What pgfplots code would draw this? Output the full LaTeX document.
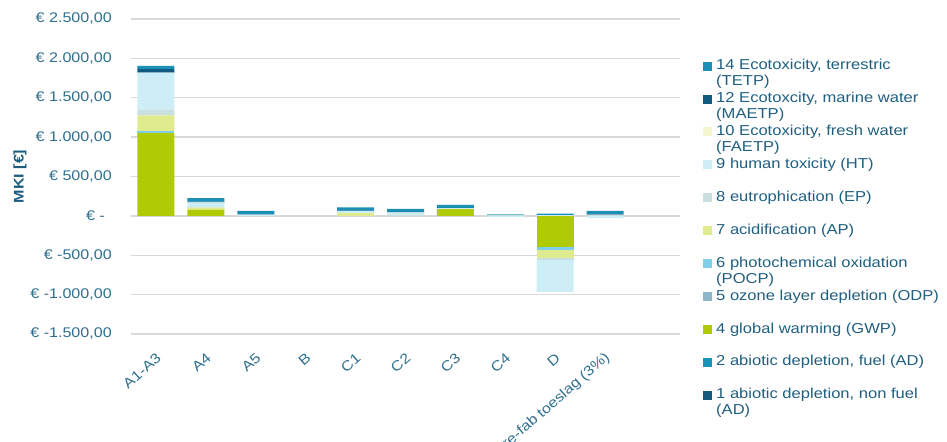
\documentclass[border=0pt]{standalone}
\usepackage{pgfplots}
\pgfplotsset{compat=1.18}
\usepackage{pgfplotstable}
\usepackage{fontspec}
\setmainfont{Liberation Sans}[FakeStretch=1.15]

\definecolor{c1}{HTML}{145A7E}
\definecolor{c2}{HTML}{1A93B8}
\definecolor{c4}{HTML}{B0CB05}
\definecolor{c5}{HTML}{8DB6C6}
\definecolor{c6}{HTML}{7ECFE7}
\definecolor{c7}{HTML}{DFEB8E}
\definecolor{c8}{HTML}{C9DFE0}
\definecolor{c9}{HTML}{CDEEF6}
\definecolor{c10}{HTML}{F2F7CF}
\definecolor{c12}{HTML}{115B80}
\definecolor{c14}{HTML}{1B8FB5}
\definecolor{gridgray}{HTML}{D9D9D9}
\definecolor{tickblue}{HTML}{2F6F8F}
\definecolor{legblue}{HTML}{1F5F7F}
\definecolor{labelblue}{HTML}{1C5C80}

% positive contributions per phase (EUR)
\pgfplotstableread{
x s1 s2 s4   s5 s6 s7  s8 s9  s10 s12 s14
0 0  0  1050 0  25 200 75 470 0   45  40
1 0  0  80   0  0  25  10 55  0   10  45
2 0  0  0    0  0  0   0  15  0   5   42
3 0  0  0    0  0  0   0  0   0   0   0
4 0  0  0    0  0  35  0  25  0   8   40
5 0  0  0    0  0  0   20 25  0   5   38
6 0  0  85   0  0  0   0  12  0   5   38
7 0  0  0    0  0  0   12 0   0   0   6
8 0  0  0    0  0  0   0  8   0   0   20
9 0  0  0    0  0  0   15 0   0   8   40
}\postab

% negative contributions per phase (EUR)
\pgfplotstableread{
x s1 s2 s4   s5 s6  s7   s8  s9   s10 s12 s14
0 0  0  0    0  0   0    0   0    0   0   0
1 0  0  0    0  0   0    0   0    0   0   0
2 0  0  0    0  0   0    0   0    0   0   0
3 0  0  0    0  0   0    0   0    0   0   0
4 0  0  0    0  0   0    0   0    0   0   0
5 0  0  0    0  0   0    0   0    0   0   0
6 0  0  0    0  0   0    0   0    0   0   0
7 0  0  0    0  0   0    0   -15  0   0   0
8 0  0  -400 0  -35 -105 -20 -405 0   0   0
9 0  0  0    0  0   0    0   -25  0   0   0
}\negtab

% legend entry, baseline on the first line
\newcommand{\legtext}[1]{\parbox[t]{240bp}{#1}}

\pgfplotsset{
  mkibase/.style={
    scale only axis, width=549bp, height=315bp,
    xmin=-0.5, xmax=10.5, ymin=-1500, ymax=2500,
    ybar stacked, bar width=37bp,
    at={(131bp,108bp)}, anchor=south west,
    font=\fontsize{14bp}{16bp}\selectfont,
  },
  s1/.style={fill=c1,draw=none},
  s2/.style={fill=c2,draw=none},
  s4/.style={fill=c4,draw=none},
  s5/.style={fill=c5,draw=none},
  s6/.style={fill=c6,draw=none},
  s7/.style={fill=c7,draw=none},
  s8/.style={fill=c8,draw=none},
  s9/.style={fill=c9,draw=none},
  s10/.style={fill=c10,draw=none},
  s12/.style={fill=c12,draw=none},
  s14/.style={fill=c14,draw=none},
}

\begin{document}
\begin{tikzpicture}
\useasboundingbox (0,0) rectangle (947bp,442bp);
\begin{axis}[mkibase,
  axis line style={draw=none}, major tick length=0pt,
  ytick={-1500,-1000,...,2500},
  yticklabels={{€ -1.500,00},{€ -1.000,00},{€ -500,00},{€ -\hspace*{7bp}},{€ 500,00},{€ 1.000,00},{€ 1.500,00},{€ 2.000,00},{€ 2.500,00}},
  xtick={0,...,9},
  xticklabels={A1-A3,A4,A5,B,C1,C2,C3,C4,D,pre-fab toeslag (3\%)},
  ymajorgrids, grid style={line width=1.3bp, color=gridgray},
  yticklabel style={text=tickblue, inner sep=0pt, xshift=-19bp},
  xticklabel style={text=tickblue, inner sep=0pt, xshift=3bp, yshift=-22bp, rotate=41, anchor=east},
  ylabel={MKI [€]},
  ylabel style={at={(axis description cs:-0.2022,0.5)}, anchor=center, text=labelblue, font=\fontsize{14bp}{16bp}\selectfont\bfseries},
  reverse legend,
  legend style={draw=none, fill=none, at={(axis description cs:1.0419,0.873)}, anchor=north west,
    inner sep=0pt, row sep=21bp, column sep=4bp, font=\fontsize{14.4bp}{16bp}\selectfont,
    nodes={inner sep=0pt, text=legblue}, cells={anchor=base west}},
  legend image code/.code={\fill[#1,draw=none] (0bp,-1bp) rectangle (9bp,8bp);},
]
\addplot[s1] table[x=x,y=s1]{\postab};
\addlegendentry{\legtext{1 abiotic depletion, non fuel\\(AD)}}
\addplot[s2] table[x=x,y=s2]{\postab};
\addlegendentry{\legtext{2 abiotic depletion, fuel (AD)}}
\addplot[s4] table[x=x,y=s4]{\postab};
\addlegendentry{\legtext{4 global warming (GWP)}}
\addplot[s5] table[x=x,y=s5]{\postab};
\addlegendentry{\legtext{5 ozone layer depletion (ODP)}}
\addplot[s6] table[x=x,y=s6]{\postab};
\addlegendentry{\legtext{6 photochemical oxidation\\(POCP)}}
\addplot[s7] table[x=x,y=s7]{\postab};
\addlegendentry{\legtext{7 acidification (AP)}}
\addplot[s8] table[x=x,y=s8]{\postab};
\addlegendentry{\legtext{8 eutrophication (EP)}}
\addplot[s9] table[x=x,y=s9]{\postab};
\addlegendentry{\legtext{9 human toxicity (HT)}}
\addplot[s10] table[x=x,y=s10]{\postab};
\addlegendentry{\legtext{10 Ecotoxicity, fresh water\\(FAETP)}}
\addplot[s12] table[x=x,y=s12]{\postab};
\addlegendentry{\legtext{12 Ecotoxcity, marine water\\(MAETP)}}
\addplot[s14] table[x=x,y=s14]{\postab};
\addlegendentry{\legtext{14 Ecotoxicity, terrestric\\(TETP)}}
\end{axis}
\begin{axis}[mkibase, hide axis]
\addplot[s1] table[x=x,y=s1]{\negtab};
\addplot[s2] table[x=x,y=s2]{\negtab};
\addplot[s4] table[x=x,y=s4]{\negtab};
\addplot[s5] table[x=x,y=s5]{\negtab};
\addplot[s6] table[x=x,y=s6]{\negtab};
\addplot[s7] table[x=x,y=s7]{\negtab};
\addplot[s8] table[x=x,y=s8]{\negtab};
\addplot[s9] table[x=x,y=s9]{\negtab};
\addplot[s10] table[x=x,y=s10]{\negtab};
\addplot[s12] table[x=x,y=s12]{\negtab};
\addplot[s14] table[x=x,y=s14]{\negtab};
\end{axis}
\end{tikzpicture}
\end{document}
